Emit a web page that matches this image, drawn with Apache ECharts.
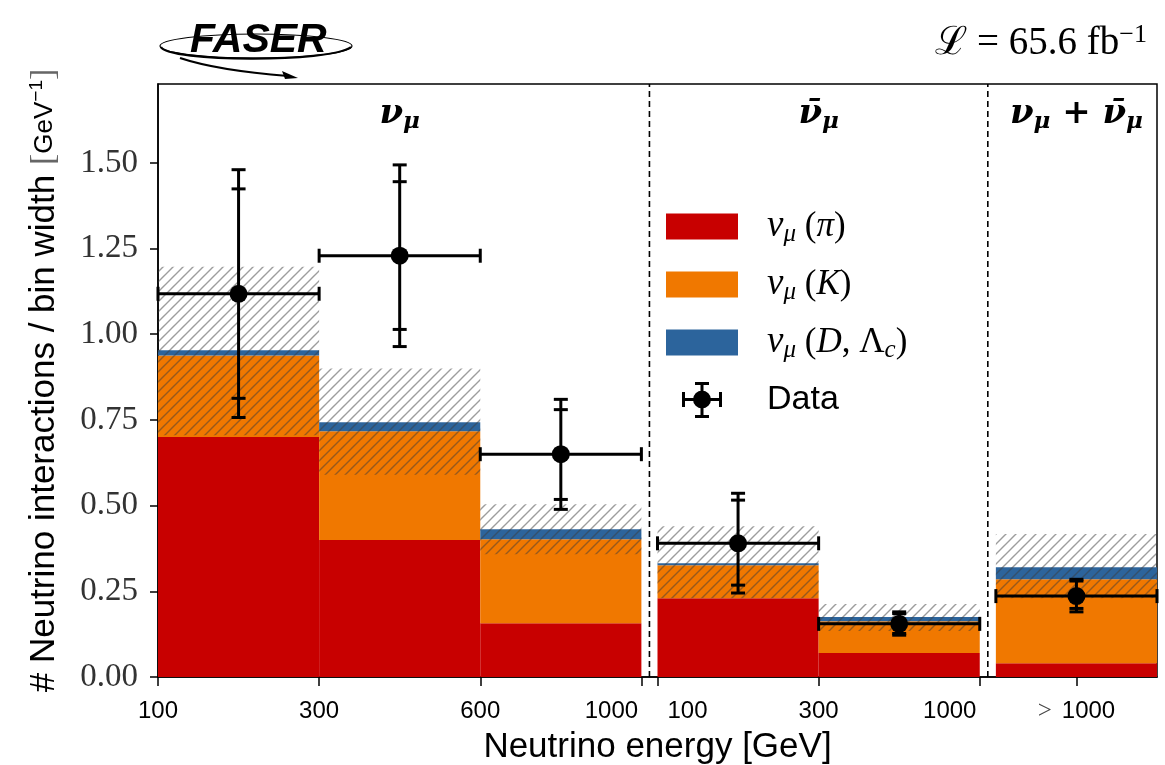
<!DOCTYPE html>
<html>
<head>
<meta charset="utf-8">
<script src="https://cdn.jsdelivr.net/npm/echarts@6/dist/echarts.min.js"></script>
<style>
html, body { margin: 0; padding: 0; background: #fff; }
#chart-container { width: 1165px; height: 765px; }
</style>
</head>
<body>
<div id="chart-container"></div>
<script>
// bins, grouped into sections (nu_mu, nubar_mu, nu_mu + nubar_mu)
var binSection = [0, 0, 0, 1, 1, 2];
var edgeLabels = [['100', '300', '600', '1000'], ['100', '300', '1000'], []];
var overflowLabel = '1000';

// stacked flux components (GeV^-1)
var pionFlux = [0.700, 0.400, 0.157, 0.230, 0.070, 0.040];
var kaonFlux = [0.238, 0.317, 0.245, 0.096, 0.093, 0.245];
var charmFlux = [0.015, 0.026, 0.029, 0.006, 0.012, 0.035];
// prediction uncertainty band
var bandLow = [0.705, 0.590, 0.358, 0.230, 0.134, 0.230];
var bandHigh = [1.197, 0.900, 0.504, 0.440, 0.213, 0.417];

// measured points
var dataValue = [1.118, 1.229, 0.650, 0.390, 0.155, 0.236];
var statLow = [0.813, 1.014, 0.518, 0.268, 0.127, 0.200];
var statHigh = [1.424, 1.445, 0.780, 0.516, 0.185, 0.280];
var totLow = [0.757, 0.964, 0.489, 0.245, 0.122, 0.190];
var totHigh = [1.480, 1.494, 0.810, 0.536, 0.190, 0.285];

var yTicks = [0, 0.25, 0.5, 0.75, 1.0, 1.25, 1.5];

// layout of the x axis: one unit per bin, small gap between sections
var gap = 0.1;
var yMax = 1.73;
var nSections = 3;

function binX0(i) { return i + gap * binSection[i]; }

var dom = document.getElementById('chart-container');
var myChart = echarts.init(dom, null, { renderer: 'canvas' });

// x tick positions and labels
var xLabelMap = {};
var xTickValues = [];
var dividers = [];
var sectionCenters = [];
for (var s = 0; s < nSections; s++) {
  var idx = [];
  binSection.forEach(function (sec, i) { if (sec === s) idx.push(i); });
  var start = binX0(idx[0]);
  var end = start + idx.length;
  sectionCenters.push((start + end) / 2);
  if (s < nSections - 1) dividers.push(end + gap / 2);
  if (edgeLabels[s].length) {
    edgeLabels[s].forEach(function (lab, k) {
      var v = start + k;
      var txt = '{c|' + lab + '}';
      if (k === 0 && s > 0) txt = '{pad| }{l|' + lab + '}';
      if (k === edgeLabels[s].length - 1 && s < nSections - 1) txt = '{r|' + lab + '}{pad| }';
      xLabelMap[v.toFixed(2)] = txt;
      xTickValues.push(v);
    });
  } else {
    var c = (start + end) / 2;
    xLabelMap[c.toFixed(2)] = '{m|>}{c|' + overflowLabel + '}';
    xTickValues.push(c);
  }
}
var xMax = binX0(binSection.length - 1) + 1;

// hatch pattern for the uncertainty band
function hatch() {
  var cv = document.createElement('canvas');
  cv.width = 10; cv.height = 10;
  var g = cv.getContext('2d');
  g.strokeStyle = 'rgba(60,60,60,0.5)';
  g.lineWidth = 1.4;
  g.beginPath();
  g.moveTo(0, 10); g.lineTo(10, 0);
  g.moveTo(-5, 5); g.lineTo(5, -5);
  g.moveTo(5, 15); g.lineTo(15, 5);
  g.stroke();
  return cv;
}
var hatchFill = { type: 'pattern', image: hatch(), repeat: 'repeat' };

function rectItem(api, fill) {
  var p0 = api.coord([api.value(0), api.value(3)]);
  var p1 = api.coord([api.value(1), api.value(2)]);
  return {
    type: 'rect',
    shape: { x: p0[0], y: p0[1], width: p1[0] - p0[0], height: p1[1] - p0[1] },
    style: { fill: fill }
  };
}

var base1 = pionFlux.slice();
var base2 = pionFlux.map(function (v, i) { return v + kaonFlux[i]; });
var zeros = pionFlux.map(function () { return 0; });

function stackSeries(name, color, values, bases) {
  return {
    type: 'custom',
    name: name,
    itemStyle: { color: color },
    z: 2,
    encode: { x: [0, 1], y: [2, 3] },
    renderItem: function (params, api) { return rectItem(api, color); },
    data: values.map(function (v, i) {
      return [binX0(i), binX0(i) + 1, bases[i], bases[i] + v];
    })
  };
}

var mathRich = {
  v: { fontFamily: 'Liberation Serif', fontStyle: 'italic', fontSize: 37, color: '#000', padding: [0, 0, 0, 24] },
  s: { fontFamily: 'Liberation Serif', fontStyle: 'italic', fontSize: 25, color: '#000', padding: [16, 0, 0, 0] },
  p: { fontFamily: 'Liberation Serif', fontSize: 35, color: '#000' },
  i: { fontFamily: 'Liberation Serif', fontStyle: 'italic', fontSize: 35, color: '#000' },
  t: { fontFamily: 'Liberation Sans', fontSize: 34, color: '#000', padding: [0, 0, 0, 24] }
};
var legendText = {
  'pi': '{v|ν}{s|μ}{p| (}{i|π}{p|)}',
  'K': '{v|ν}{s|μ}{p| (}{i|K}{p|)}',
  'D': '{v|ν}{s|μ}{p| (}{i|D}{p|, Λ}{s|c}{p|)}',
  'Data': '{t|Data}'
};

var rectIcon = 'path://M0,5h72v26h-72z M0,0h0.1v0.1h-0.1z M71.9,35.9h0.1v0.1h-0.1z';
var dataIcon = 'path://M16,16h40v3h-40z M16,10h3v15h-3z M53,10h3v15h-3z M34.5,0h3v36h-3z M29,0h14v3h-14z M29,33h14v3h-14z ' +
  'M27,17.5a9,9 0 1,1 18,0a9,9 0 1,1 -18,0z M0,0h0.1v0.1h-0.1z M71.9,35.9h0.1v0.1h-0.1z';

var titleTexts = [
  '{v|ν}{s|μ}',
  '{v|ν̄}{s|μ}',
  '{v|ν}{s|μ}{p| + }{v|ν̄}{s|μ}'
];
var titleRich = {
  v: { fontFamily: 'DejaVu Serif', fontStyle: 'italic', fontWeight: 'bold', fontSize: 34, color: '#000' },
  s: { fontFamily: 'DejaVu Serif', fontStyle: 'italic', fontWeight: 'bold', fontSize: 23, color: '#000', padding: [16, 0, 0, 0] },
  p: { fontFamily: 'DejaVu Serif', fontWeight: 'bold', fontSize: 34, color: '#000' }
};

var option = {
  animation: false,
  backgroundColor: '#fff',
  grid: {
    left: 158, right: 8, top: 84, bottom: 88,
    outerBoundsMode: 'none',
    show: true, borderColor: '#000', borderWidth: 1.5, backgroundColor: 'transparent'
  },
  legend: {
    orient: 'vertical',
    left: 661, top: 203,
    itemWidth: 72, itemHeight: 36, itemGap: 19,
    selectedMode: false,
    data: [
      { name: 'pi', icon: rectIcon },
      { name: 'K', icon: rectIcon },
      { name: 'D', icon: rectIcon },
      { name: 'Data', icon: dataIcon }
    ],
    formatter: function (name) { return legendText[name]; },
    textStyle: { rich: mathRich, lineHeight: 36 }
  },
  xAxis: {
    type: 'value',
    min: 0, max: xMax,
    splitLine: { show: false },
    axisLine: { lineStyle: { color: '#000', width: 1.5 } },
    axisTick: { customValues: xTickValues, length: 9, lineStyle: { color: '#000', width: 1.5 } },
    axisLabel: {
      customValues: xTickValues,
      margin: 22,
      formatter: function (v) { return xLabelMap[v.toFixed(2)] || ''; },
      rich: {
        c: { fontFamily: 'Liberation Sans', fontSize: 24, color: '#000' },
        l: { fontFamily: 'Liberation Sans', fontSize: 24, color: '#000', width: 60, align: 'left' },
        r: { fontFamily: 'Liberation Sans', fontSize: 24, color: '#000', width: 60, align: 'right' },
        pad: { fontSize: 24, width: 60 },
        m: { fontFamily: 'Liberation Serif', fontSize: 25, color: '#444', padding: [0, 10, 0, 0] }
      }
    },
    name: 'Neutrino energy [GeV]',
    nameLocation: 'middle',
    nameGap: 53,
    nameMoveOverlap: false,
    nameTextStyle: { fontFamily: 'Liberation Sans', fontSize: 35, color: '#000' }
  },
  yAxis: {
    type: 'value',
    min: 0, max: yMax,
    splitLine: { show: false },
    axisLine: { show: true, lineStyle: { color: '#000', width: 1.5 } },
    axisTick: { show: true, customValues: yTicks, length: 8, lineStyle: { color: '#000', width: 1.5 } },
    axisLabel: {
      customValues: yTicks,
      margin: 20,
      formatter: function (v) { return v.toFixed(2); },
      fontFamily: 'Liberation Serif', fontSize: 33, color: '#333'
    },
    name: '# Neutrino interactions / bin width {b|[}{g|GeV}{sup|−1}{b|]}',
    nameLocation: 'middle',
    nameGap: 96,
    nameMoveOverlap: false,
    nameTextStyle: {
      fontFamily: 'Liberation Sans', fontSize: 35, color: '#000',
      rich: {
        b: { fontFamily: 'Liberation Serif', fontSize: 34, color: '#666' },
        g: { fontFamily: 'Liberation Sans', fontSize: 26, color: '#000' },
        sup: { fontFamily: 'Liberation Sans', fontSize: 19, color: '#000', padding: [0, 0, 16, 0] }
      }
    }
  },
  graphic: [
    // FASER logo
    { type: 'ellipse', shape: { cx: 256, cy: 46, rx: 96, ry: 12 }, style: { fill: null, stroke: '#000', lineWidth: 1.2 } },
    { type: 'bezierCurve', shape: { x1: 161, y1: 47, cpx1: 168, cpy1: 62, cpx2: 330, cpy2: 63, x2: 351, y2: 47 }, style: { fill: null, stroke: '#000', lineWidth: 2.2 } },
    { type: 'text', left: 190, top: 20, style: { text: 'FASER', fontFamily: 'Liberation Sans', fontWeight: 'bold', fontStyle: 'italic', fontSize: 41, fill: '#000' } },
    { type: 'bezierCurve', shape: { x1: 180, y1: 58, cpx1: 210, cpy1: 68, cpx2: 250, cpy2: 73, x2: 288, y2: 76 }, style: { fill: null, stroke: '#000', lineWidth: 2.2 } },
    { type: 'polygon', shape: { points: [[298, 78], [282, 71], [285, 79]] }, style: { fill: '#000' } },
    // luminosity
    {
      type: 'text', right: 18, top: 22,
      style: {
        text: '{t|ℒ = 65.6 fb}{sup|−1}',
        rich: {
          t: { fontFamily: 'Liberation Serif', fontSize: 39, fill: '#000' },
          sup: { fontFamily: 'Liberation Serif', fontSize: 26, fill: '#000', padding: [0, 0, 18, 0] }
        }
      }
    }
  ],
  series: [
    stackSeries('pi', '#c80000', pionFlux, zeros),
    stackSeries('K', '#f07800', kaonFlux, base1),
    stackSeries('D', '#2c649c', charmFlux, base2),
    {
      type: 'custom',
      name: 'band',
      z: 3,
      encode: { x: [0, 1], y: [2, 3] },
      renderItem: function (params, api) { return rectItem(api, hatchFill); },
      data: bandLow.map(function (lo, i) { return [binX0(i), binX0(i) + 1, lo, bandHigh[i]]; })
    },
    {
      type: 'custom',
      name: 'dividers',
      z: 4,
      renderItem: function (params, api) {
        var a = api.coord([api.value(0), 0]);
        var b = api.coord([api.value(0), yMax]);
        return {
          type: 'line',
          shape: { x1: a[0], y1: a[1], x2: b[0], y2: b[1] },
          style: { stroke: '#000', lineWidth: 1.6, lineDash: [6, 4] }
        };
      },
      data: dividers.map(function (d) { return [d]; })
    },
    {
      type: 'custom',
      name: 'titles',
      z: 5,
      renderItem: function (params, api) {
        var p = api.coord([api.value(0), yMax]);
        return {
          type: 'text',
          x: p[0], y: p[1] + 30,
          style: { text: titleTexts[params.dataIndex], rich: titleRich, align: 'center', verticalAlign: 'middle' }
        };
      },
      data: sectionCenters.map(function (c) { return [c]; })
    },
    {
      type: 'custom',
      name: 'Data',
      itemStyle: { color: '#000' },
      z: 6,
      encode: { x: [0, 1], y: [2, 3, 4] },
      renderItem: function (params, api) {
        var i = params.dataIndex;
        var x0 = api.value(0), x1 = api.value(1);
        var xc = (x0 + x1) / 2;
        var pL = api.coord([x0, dataValue[i]]);
        var pR = api.coord([x1, dataValue[i]]);
        var pc = api.coord([xc, dataValue[i]]);
        var ys = [totLow[i], statLow[i], statHigh[i], totHigh[i]].map(function (v) { return api.coord([xc, v])[1]; });
        var st = { stroke: '#000', lineWidth: 3 };
        var kids = [
          { type: 'line', shape: { x1: pL[0], y1: pL[1], x2: pR[0], y2: pR[1] }, style: st },
          { type: 'line', shape: { x1: pL[0], y1: pL[1] - 7, x2: pL[0], y2: pL[1] + 7 }, style: st },
          { type: 'line', shape: { x1: pR[0], y1: pR[1] - 7, x2: pR[0], y2: pR[1] + 7 }, style: st },
          { type: 'line', shape: { x1: pc[0], y1: ys[0], x2: pc[0], y2: ys[3] }, style: st }
        ];
        ys.forEach(function (y) {
          kids.push({ type: 'line', shape: { x1: pc[0] - 7, y1: y, x2: pc[0] + 7, y2: y }, style: st });
        });
        kids.push({ type: 'circle', shape: { cx: pc[0], cy: pc[1], r: 9 }, style: { fill: '#000' } });
        return { type: 'group', children: kids };
      },
      data: dataValue.map(function (v, i) { return [binX0(i), binX0(i) + 1, v, totLow[i], totHigh[i]]; })
    }
  ]
};

if (option && typeof option === 'object') {
  myChart.setOption(option);
}

window.addEventListener('resize', myChart.resize);
</script>
</body>
</html>
